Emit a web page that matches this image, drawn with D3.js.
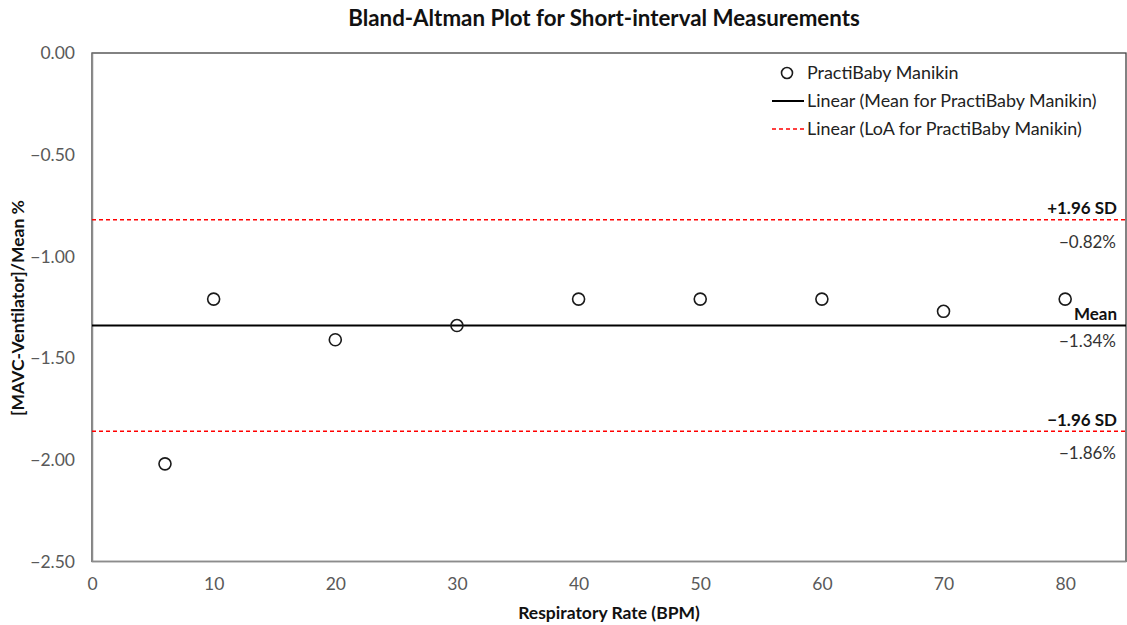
<html>
<head>
<meta charset="utf-8">
<script src="https://cdn.jsdelivr.net/npm/d3@7"></script>
<style>
body { margin: 0; background: #fff; }
text { font-family: Lato, "Noto Sans", sans-serif; }
</style>
</head>
<body>
<div id="chart"></div>
<script>
// Respiratory rate (BPM) and % difference
var rates = [6, 10, 20, 30, 40, 50, 60, 70, 80];
var diffs = [-2.02, -1.21, -1.41, -1.34, -1.21, -1.21, -1.21, -1.27, -1.21];
var meanDiff = -1.34;
var upperLoA = -0.82;
var lowerLoA = -1.86;
var xTicks = [0, 10, 20, 30, 40, 50, 60, 70, 80];
var yTicks = [0, -0.5, -1, -1.5, -2, -2.5];
var legendLabels = ["PractiBaby Manikin", "Linear (Mean for PractiBaby Manikin)", "Linear (LoA for PractiBaby Manikin)"];

const W = 1127, H = 625;
const plotL = 92, plotR = 1126, plotT = 53, plotB = 561.5;
const tickGray = "#595959";

var svg = d3.select("#chart").append("svg")
  .attr("width", W)
  .attr("height", H);

var x = d3.scaleLinear().domain([0, 85]).range([plotL, plotR]);
var y = d3.scaleLinear().domain([-2.5, 0]).range([plotB, plotT]);

// plot border
svg.append("rect")
  .attr("x", plotL).attr("y", plotT)
  .attr("width", plotR - plotL).attr("height", plotB - plotT)
  .attr("fill", "none")
  .attr("stroke", "#404040")
  .attr("stroke-width", 1.3);

// axes (labels only, no tick marks)
var yAxis = svg.append("g")
  .attr("transform", "translate(" + plotL + ",0)")
  .call(d3.axisLeft(y).tickValues(yTicks).tickSize(0).tickPadding(17)
        .tickFormat(d3.format(".2f")));
yAxis.select(".domain").attr("stroke", "#8c8c8c").attr("stroke-width", 1.5);
yAxis.selectAll("text").attr("font-size", "17.5px").attr("fill", tickGray).attr("font-family", "Lato");

var xAxis = svg.append("g")
  .attr("transform", "translate(0," + plotB + ")")
  .call(d3.axisBottom(x).tickValues(xTicks).tickSize(0).tickPadding(16));
xAxis.select(".domain").attr("stroke", "#8c8c8c").attr("stroke-width", 1.5)
  .attr("d", "M" + plotL + ",0H" + plotR);
xAxis.selectAll("text").attr("font-size", "17.5px").attr("fill", tickGray).attr("font-family", "Lato");

// mean and limits of agreement
svg.append("line")
  .attr("x1", x(0)).attr("x2", x(85))
  .attr("y1", y(meanDiff)).attr("y2", y(meanDiff))
  .attr("stroke", "#000").attr("stroke-width", 2);

[upperLoA, lowerLoA].forEach(function(v) {
  svg.append("line")
    .attr("x1", x(0)).attr("x2", x(85))
    .attr("y1", y(v)).attr("y2", y(v))
    .attr("stroke", "#ff0000").attr("stroke-width", 1.5)
    .attr("stroke-dasharray", "4,3");
});

// points
svg.selectAll("circle.pt")
  .data(rates)
  .enter()
  .append("circle")
  .attr("class", "pt")
  .attr("cx", function(d) { return x(d); })
  .attr("cy", function(d, i) { return y(diffs[i]); })
  .attr("r", 6)
  .attr("fill", "none")
  .attr("stroke", "#1a1a1a")
  .attr("stroke-width", 1.6);

// line annotations on the right
var fmtPct = function(v) { return d3.format(".2f")(v) + "%"; };
var notes = [
  { label: "+1.96 SD", value: upperLoA, dl: -6, dv: 28 },
  { label: "Mean", value: meanDiff, dl: -6, dv: 21 },
  { label: "\u22121.96 SD", value: lowerLoA, dl: -5, dv: 28 }
];
notes.forEach(function(n) {
  svg.append("text")
    .attr("x", 1117).attr("y", y(n.value) + n.dl)
    .attr("text-anchor", "end")
    .attr("font-size", "17px").attr("font-weight", "bold")
    .attr("fill", "#111")
    .text(n.label);
  svg.append("text")
    .attr("x", 1116).attr("y", y(n.value) + n.dv)
    .attr("text-anchor", "end")
    .attr("font-size", "17px")
    .attr("fill", "#333")
    .text(fmtPct(n.value));
});

// legend
var lg = svg.append("g");
lg.append("circle").attr("cx", 787).attr("cy", 73).attr("r", 5.5)
  .attr("fill", "none").attr("stroke", "#1a1a1a").attr("stroke-width", 1.6);
lg.append("line").attr("x1", 772).attr("x2", 804).attr("y1", 101).attr("y2", 101)
  .attr("stroke", "#000").attr("stroke-width", 2);
lg.append("line").attr("x1", 772).attr("x2", 804).attr("y1", 129).attr("y2", 129)
  .attr("stroke", "#ff0000").attr("stroke-width", 1.5).attr("stroke-dasharray", "4,3");
lg.selectAll("text.leg")
  .data(legendLabels)
  .enter()
  .append("text")
  .attr("class", "leg")
  .attr("x", 807)
  .attr("y", function(d, i) { return 79 + i * 28; })
  .attr("font-size", "17.9px")
  .attr("fill", "#222")
  .text(function(d) { return d; });

// titles
svg.append("text")
  .attr("x", 604).attr("y", 26)
  .attr("text-anchor", "middle")
  .attr("font-size", "22.3px").attr("font-weight", "bold")
  .attr("fill", "#111")
  .text("Bland-Altman Plot for Short-interval Measurements");

svg.append("text")
  .attr("x", 609).attr("y", 619)
  .attr("text-anchor", "middle")
  .attr("font-size", "17.5px").attr("font-weight", "bold")
  .attr("fill", "#111")
  .text("Respiratory Rate (BPM)");

svg.append("text")
  .attr("transform", "translate(24," + 308 + ") rotate(-90)")
  .attr("text-anchor", "middle")
  .attr("font-size", "17.5px").attr("font-weight", "bold")
  .attr("fill", "#111")
  .text("[MAVC-Ventilator]/Mean %");
</script>
</body>
</html>
